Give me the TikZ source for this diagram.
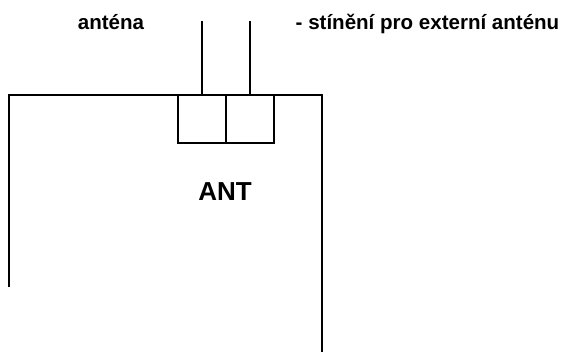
\documentclass[tikz,border=0pt]{standalone}
\usepackage{fontspec}
\setmainfont{Liberation Sans}

\begin{document}
\begin{tikzpicture}[x=0.75pt,y=-0.75pt,line width=1.1pt,
	conbox/.style={draw,minimum width=36pt,minimum height=36pt,inner sep=0pt},
	lbl/.style={font=\bfseries\fontsize{15.4}{18}\selectfont,inner sep=0pt}]
	
	\useasboundingbox (0,0) rectangle (568,351);
	
	% outline of the board
	\draw (9,287) -- (9,95) -- (322,95) -- (322,352);
	
	\node[conbox] (inbox) at (202,119) {};
	\node[conbox] (shbox) at (250,119) {};
	
	\coordinate (intop) at (202,21);
	\coordinate (shtop) at (250,21);
	\draw (inbox.north) -- (intop);
	\draw (shbox.north) -- (shtop);
	
	\node[lbl,anchor=base] (antlbl) at (111,29) {anténa};
	\node[lbl,anchor=base west] (shlbl) at (295,29) {- stínění pro externí anténu};
	\node[lbl,anchor=base,font=\bfseries\fontsize{19.5}{23}\selectfont] (antname) at (225,200) {ANT};

\end{tikzpicture}
\end{document}
